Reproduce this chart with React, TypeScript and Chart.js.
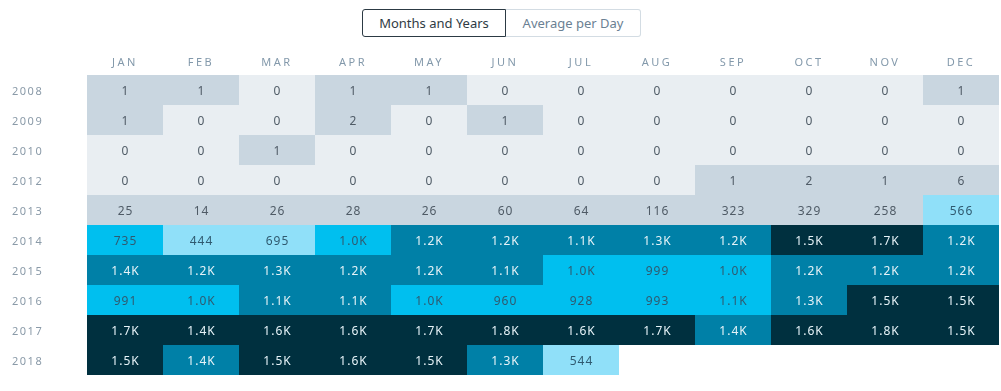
import React, { useEffect, useRef } from "react";
import { Chart, registerables } from "chart.js";

Chart.register(...registerables);

const months = ["JAN", "FEB", "MAR", "APR", "MAY", "JUN", "JUL", "AUG", "SEP", "OCT", "NOV", "DEC"];
const years = ["2008", "2009", "2010", "2012", "2013", "2014", "2015", "2016", "2017", "2018"];

const v2008 = [1, 1, 0, 1, 1, 0, 0, 0, 0, 0, 0, 1];
const v2009 = [1, 0, 0, 2, 0, 1, 0, 0, 0, 0, 0, 0];
const v2010 = [0, 0, 1, 0, 0, 0, 0, 0, 0, 0, 0, 0];
const v2012 = [0, 0, 0, 0, 0, 0, 0, 0, 1, 2, 1, 6];
const v2013 = [25, 14, 26, 28, 26, 60, 64, 116, 323, 329, 258, 566];
const v2014 = [735, 444, 695, 1012, 1180, 1210, 1120, 1290, 1240, 1510, 1680, 1230];
const v2015 = [1390, 1220, 1310, 1170, 1200, 1110, 1030, 999, 1020, 1190, 1230, 1180];
const v2016 = [991, 1015, 1120, 1090, 1040, 960, 928, 993, 1058, 1300, 1520, 1480];
const v2017 = [1700, 1440, 1610, 1580, 1690, 1790, 1620, 1710, 1400, 1570, 1820, 1530];
const v2018 = [1470, 1410, 1530, 1560, 1500, 1300, 544, null, null, null, null, null];

const rows: (number | null)[][] = [v2008, v2009, v2010, v2012, v2013, v2014, v2015, v2016, v2017, v2018];

const FONT = '"Noto Sans", sans-serif';

function cellColor(v: number): string {
  if (v === 0) return "#e9eef2";
  if (v < 400) return "#c9d6e0";
  if (v < 720) return "#90e0f9";
  if (v < 1070) return "#00bfef";
  if (v < 1430) return "#0080a7";
  return "#00303f";
}

function textColor(v: number): string {
  if (v < 400) return "#4f5b66";
  if (v < 1070) return "#2f5a70";
  return "#e6f3f8";
}

function fmt(v: number): string {
  if (v < 1000) return String(v);
  return (v / 1000).toFixed(1) + "K";
}

const spacingPlugin = {
  id: "axisSpacing",
  beforeLayout(chart: any) {
    const specs: [string, string, number][] = [["x", "2.5px", 0.5], ["y", "1.5px", 1.5]];
    specs.forEach(([id, sp, dy]) => {
      const s = chart.scales[id];
      if (!s || s._patched) return;
      const orig = s.draw.bind(s);
      s.draw = (area: any) => {
        const c = s.ctx;
        c.save();
        c.letterSpacing = sp;
        c.translate(0, dy);
        orig(area);
        c.restore();
      };
      s._patched = true;
    });
  },
};

const labelPlugin = {
  id: "cellLabels",
  afterDatasetsDraw(chart: any) {
    const ctx = chart.ctx;
    ctx.save();
    ctx.font = "12px " + FONT;
    ctx.letterSpacing = "1px";
    ctx.textAlign = "center";
    ctx.textBaseline = "middle";
    chart.data.datasets.forEach((_ds: any, di: number) => {
      const meta = chart.getDatasetMeta(di);
      meta.data.forEach((el: any, i: number) => {
        const v = rows[i][di];
        if (v == null) return;
        const { x, y, base } = el.getProps(["x", "y", "base"], true);
        ctx.fillStyle = textColor(v);
        ctx.fillText(fmt(v), (x + base) / 2 + 0.5, y + 1.5);
      });
    });
    ctx.restore();
  },
};

export default function App() {
  const ref = useRef<HTMLCanvasElement>(null);

  useEffect(() => {
    if (!ref.current) return;
    const datasets = months.map((m, mi) => ({
      label: m,
      data: rows.map((r) => (r[mi] == null ? null : [mi, mi + 1])),
      backgroundColor: rows.map((r) => (r[mi] == null ? "rgba(0,0,0,0)" : cellColor(r[mi] as number))),
      borderWidth: 0,
      barPercentage: 1,
      categoryPercentage: 1,
      grouped: false,
      inflateAmount: 0,
    }));

    const chart = new Chart(ref.current, {
      type: "bar",
      data: { labels: years, datasets: datasets as any },
      options: {
        indexAxis: "y",
        animation: false,
        responsive: false,
        maintainAspectRatio: false,
        layout: { padding: { left: 12, right: 2, top: 0, bottom: 16 } },
        plugins: { legend: { display: false }, tooltip: { enabled: false } },
        scales: {
          x: {
            type: "linear",
            position: "top",
            min: 0,
            max: 12,
            grid: { display: false, drawTicks: false },
            border: { display: false },
            afterFit: (s: any) => {
              s.height = 35;
            },
            afterBuildTicks: (s: any) => {
              s.ticks = months.map((_m, i) => ({ value: i + 0.5 }));
            },
            ticks: {
              autoSkip: false,
              maxRotation: 0,
              padding: 6,
              color: "#8399ab",
              font: { family: FONT, size: 11 },
              callback: (v: any) => months[Math.floor(Number(v))] ?? "",
            },
          },
          y: {
            type: "category",
            grid: { display: false, drawTicks: false },
            border: { display: false },
            afterFit: (s: any) => {
              s.width = 75;
            },
            ticks: {
              crossAlign: "far",
              color: "#8a9aa8",
              font: { family: FONT, size: 11 },
            },
          },
        },
      } as any,
      plugins: [spacingPlugin, labelPlugin],
    });
    return () => chart.destroy();
  }, []);

  const btnBase: React.CSSProperties = {
    height: 28,
    boxSizing: "border-box",
    display: "flex",
    alignItems: "center",
    justifyContent: "center",
  };

  return (
    <div style={{ position: "absolute", left: 0, top: 0, width: 1001, height: 391, background: "#fff", fontFamily: FONT }}>
      <div style={{ position: "absolute", left: 362, top: 9, display: "flex", fontSize: 13 }}>
        <div
          style={{
            ...btnBase,
            width: 144,
            border: "1px solid #2c3a44",
            borderRadius: "3px 0 0 3px",
            color: "#2f3b44",
          }}
        >
          Months and Years
        </div>
        <div
          style={{
            ...btnBase,
            width: 135,
            border: "1px solid #d3dce3",
            borderLeft: "none",
            borderRadius: "0 3px 3px 0",
            color: "#6b8193",
          }}
        >
          Average per Day
        </div>
      </div>
      <canvas ref={ref} width={1001} height={351} style={{ position: "absolute", left: 0, top: 40, width: 1001, height: 351 }} />
    </div>
  );
}
